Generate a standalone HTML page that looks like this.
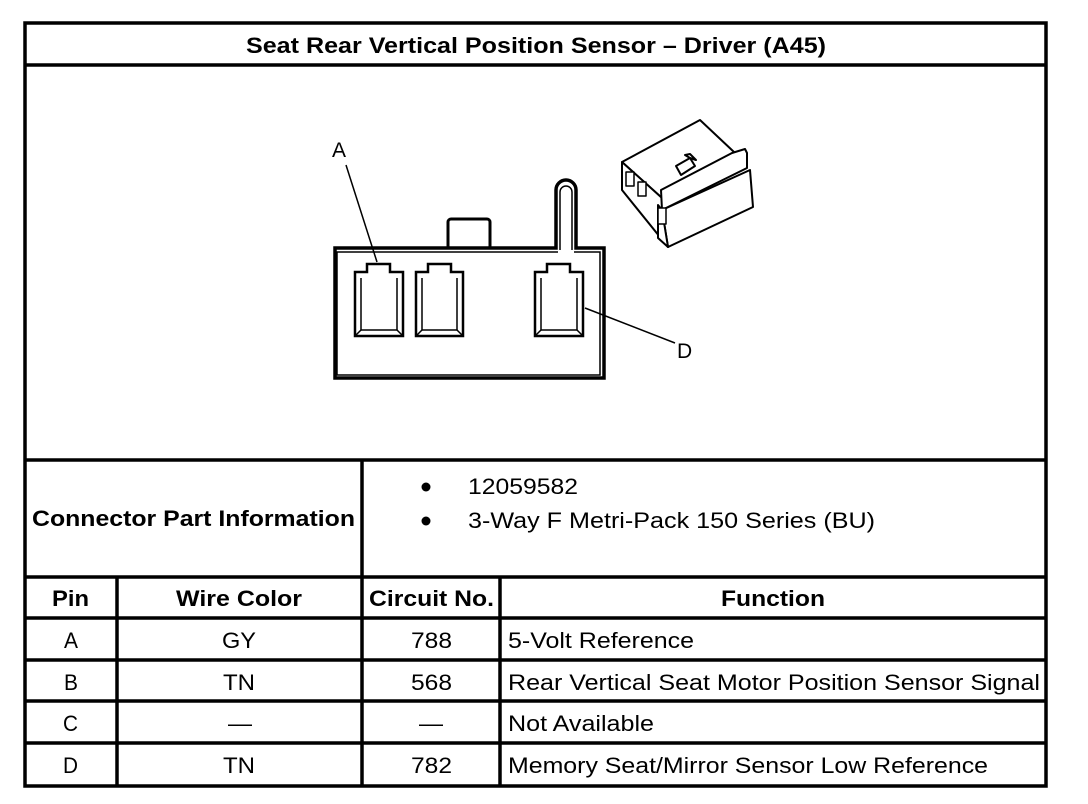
<!DOCTYPE html>
<html><head><meta charset="utf-8"><style>
html,body{margin:0;padding:0;background:#fff;}
svg{display:block;}
text{font-family:"Liberation Sans",Arial,sans-serif;fill:#000;}
</style></head><body>
<svg width="1088" height="804" viewBox="0 0 1088 804" xmlns="http://www.w3.org/2000/svg">
<g stroke="#000" stroke-width="3.5" fill="none">
<rect x="25" y="23" width="1021" height="763"/>
<line x1="25" y1="65" x2="1046" y2="65"/>
<line x1="25" y1="460" x2="1046" y2="460"/>
<line x1="25" y1="577" x2="1046" y2="577"/>
<line x1="25" y1="618" x2="1046" y2="618"/>
<line x1="25" y1="660" x2="1046" y2="660"/>
<line x1="25" y1="701" x2="1046" y2="701"/>
<line x1="25" y1="743" x2="1046" y2="743"/>
<line x1="362" y1="460" x2="362" y2="786"/>
<line x1="117" y1="577" x2="117" y2="786"/>
<line x1="500" y1="577" x2="500" y2="786"/>
</g>
<g font-size="22.5">
<text x="246" y="53" font-weight="bold" textLength="580" lengthAdjust="spacingAndGlyphs">Seat Rear Vertical Position Sensor – Driver (A45)</text>
<text x="32" y="526" font-weight="bold" textLength="323" lengthAdjust="spacingAndGlyphs">Connector Part Information</text>
<text x="468" y="494" textLength="110" lengthAdjust="spacingAndGlyphs">12059582</text>
<text x="468" y="528" textLength="407" lengthAdjust="spacingAndGlyphs">3-Way F Metri-Pack 150 Series (BU)</text>
<text x="52" y="606" font-weight="bold" textLength="37" lengthAdjust="spacingAndGlyphs">Pin</text>
<text x="176" y="606" font-weight="bold" textLength="126" lengthAdjust="spacingAndGlyphs">Wire Color</text>
<text x="369" y="606" font-weight="bold" textLength="125" lengthAdjust="spacingAndGlyphs">Circuit No.</text>
<text x="721" y="606" font-weight="bold" textLength="104" lengthAdjust="spacingAndGlyphs">Function</text>
</g>
<circle cx="426" cy="487" r="4.5" fill="#000"/>
<circle cx="426" cy="521" r="4.5" fill="#000"/>
<g font-size="22.5">
<text x="64" y="648" textLength="14" lengthAdjust="spacingAndGlyphs">A</text><text x="222" y="648" textLength="34" lengthAdjust="spacingAndGlyphs">GY</text><text x="411" y="648" textLength="41" lengthAdjust="spacingAndGlyphs">788</text>
<text x="64" y="690" textLength="14" lengthAdjust="spacingAndGlyphs">B</text><text x="223" y="690" textLength="32" lengthAdjust="spacingAndGlyphs">TN</text><text x="411" y="690" textLength="41" lengthAdjust="spacingAndGlyphs">568</text>
<text x="63" y="731" textLength="15" lengthAdjust="spacingAndGlyphs">C</text><text x="228" y="731" textLength="24" lengthAdjust="spacingAndGlyphs">—</text><text x="419" y="731" textLength="24" lengthAdjust="spacingAndGlyphs">—</text>
<text x="63" y="773" textLength="15" lengthAdjust="spacingAndGlyphs">D</text><text x="223" y="773" textLength="32" lengthAdjust="spacingAndGlyphs">TN</text><text x="411" y="773" textLength="41" lengthAdjust="spacingAndGlyphs">782</text>
</g>
<g font-size="22.5">
<text x="508" y="648" textLength="186" lengthAdjust="spacingAndGlyphs">5-Volt Reference</text>
<text x="508" y="690" textLength="532" lengthAdjust="spacingAndGlyphs">Rear Vertical Seat Motor Position Sensor Signal</text>
<text x="508" y="731" textLength="146" lengthAdjust="spacingAndGlyphs">Not Available</text>
<text x="508" y="773" textLength="480" lengthAdjust="spacingAndGlyphs">Memory Seat/Mirror Sensor Low Reference</text>
</g>
<!-- main connector -->
<g stroke="#000" fill="none">
<rect x="448" y="219" width="42" height="30" rx="3" stroke-width="3" fill="#fff"/>
<path d="M335 248 L556 248 L556 190 A10 10 0 0 1 576 190 L576 248 L604 248 L604 378 L335 378 Z" stroke-width="3.5" fill="#fff"/>
<path d="M558 252 L337 252 L337 375 L600 375 L600 252 L574 252" stroke-width="1.5"/>
<path d="M560 250 L560 192 A6 6 0 0 1 572 192 L572 250" stroke-width="1.5"/>
<g stroke-width="2.5">
<path d="M355 272 L367 272 L367 264 L390 264 L390 272 L403 272 L403 336 L355 336 Z"/>
<path d="M416 272 L428 272 L428 264 L451 264 L451 272 L463 272 L463 336 L416 336 Z"/>
<path d="M535 272 L547 272 L547 264 L570 264 L570 272 L583 272 L583 336 L535 336 Z"/>
</g>
<g stroke-width="1.5">
<path d="M361 278 L361 330 L397 330 L397 278"/><path d="M355 336 L361 330 M403 336 L397 330"/>
<path d="M422 278 L422 330 L457 330 L457 278"/><path d="M416 336 L422 330 M463 336 L457 330"/>
<path d="M541 278 L541 330 L577 330 L577 278"/><path d="M535 336 L541 330 M583 336 L577 330"/>
</g>
<line x1="346" y1="165" x2="377" y2="262" stroke-width="1.5"/>
<line x1="585" y1="308" x2="675" y2="343" stroke-width="1.5"/>
</g>
<text x="332" y="157" font-size="21">A</text>
<text x="677" y="358" font-size="21">D</text>
<!-- small connector -->
<g stroke="#000" stroke-width="2" fill="#fff" stroke-linejoin="round">
<path d="M622 162 L700 120 L734 152 L734 160 L662 198 Z"/>
<path d="M622 162 L662 198 L668 247 L622 190 Z"/>
<path d="M661 190 L732 153 L745 149 L747 153 L747 168 L662 210 Z"/>
<path d="M662 210 L750 170 L753 207 L668 247 Z"/>
<path d="M662 210 L668 247 L658 238 L658 205 Z"/>
<path d="M676 166 L690 158 L695 166 L681 175 Z"/>
<path d="M685 155 L690 154 L696 160 L690 158 Z"/>
<rect x="626" y="172" width="8" height="14" stroke-width="1.5"/>
<rect x="638" y="182" width="8" height="14" stroke-width="1.5"/>
<rect x="658" y="208" width="8" height="16" stroke-width="1.5"/>
</g>
</svg>
</body></html>
